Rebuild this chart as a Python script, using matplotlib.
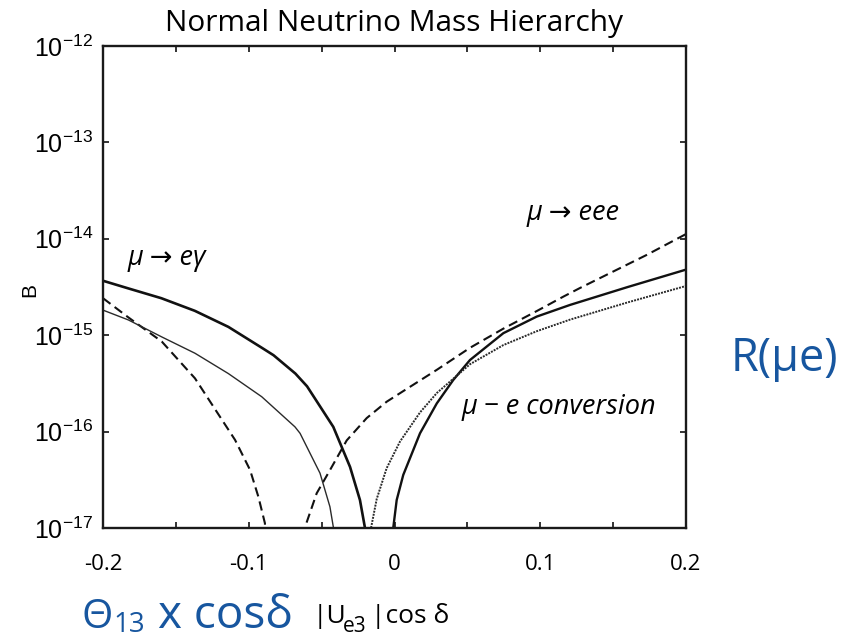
import matplotlib
matplotlib.use('Agg')
import matplotlib.pyplot as plt
import matplotlib.ticker as mticker

plt.rcParams['mathtext.fontset'] = 'custom'
plt.rcParams['mathtext.rm'] = 'Liberation Sans'
plt.rcParams['mathtext.it'] = 'Liberation Sans:italic'

# curves (x = |Ue3| cos delta, B = branching ratio)
# mu -> e gamma, thick solid, left branch
eg_left_x = [-0.200, -0.183, -0.160, -0.137, -0.114, -0.091, -0.083, -0.068, -0.060, -0.042, -0.0305, -0.0237, -0.0204, -0.0195]
eg_left_b = [3.67e-15, 3.07e-15, 2.42e-15, 1.79e-15, 1.22e-15, 7.4e-16, 6.2e-16, 4.0e-16, 2.95e-16, 1.12e-16, 4.3e-17, 1.95e-17, 1.03e-17, 1e-18]

# mu -> eee, dashed
eee_left_x = [-0.200, -0.1826, -0.1597, -0.1369, -0.1094, -0.0991, -0.0934, -0.0889, -0.0878]
eee_left_b = [2.42e-15, 1.53e-15, 8.6e-16, 3.57e-16, 8.2e-17, 4.0e-17, 2.11e-17, 1.12e-17, 1e-18]
eee_right_x = [-0.0625, -0.0614, -0.0534, -0.0443, -0.0328, -0.0191, -0.0054, 0.006, 0.029, 0.0518, 0.0747, 0.0976, 0.1158, 0.1273, 0.173, 0.200]
eee_right_b = [1e-18, 1.02e-17, 2.29e-17, 3.98e-17, 8.1e-17, 1.38e-16, 2.04e-16, 2.63e-16, 4.37e-16, 7.4e-16, 1.17e-15, 1.78e-15, 2.51e-15, 3.09e-15, 6.8e-15, 1.12e-14]

# thin / dotted curve
thin_left_x = [-0.200, -0.1826, -0.1597, -0.1369, -0.114, -0.0911, -0.0683, -0.0648, -0.0511, -0.0443, -0.042, -0.041]
thin_left_b = [1.82e-15, 1.44e-15, 9.6e-16, 6.5e-16, 4.0e-16, 2.3e-16, 1.12e-16, 9.6e-17, 3.7e-17, 1.66e-17, 1.03e-17, 1e-18]
dot_right_x = [-0.0168, -0.016, -0.0122, -0.0054, 0.0038, 0.0175, 0.029, 0.0518, 0.0747, 0.0976, 0.1204, 0.160, 0.200]
dot_right_b = [1e-18, 1.02e-17, 2.0e-17, 4.17e-17, 7.9e-17, 1.58e-16, 2.51e-16, 5.0e-16, 7.9e-16, 1.10e-15, 1.45e-15, 2.19e-15, 3.24e-15]

# mu - e conversion, solid, right branch
conv_right_x = [-0.0015, -0.0008, 0.0015, 0.006, 0.0175, 0.029, 0.0403, 0.0518, 0.0747, 0.0976, 0.1204, 0.160, 0.200]
conv_right_b = [1e-18, 1.02e-17, 1.95e-17, 3.55e-17, 9.6e-17, 1.96e-16, 3.43e-16, 5.53e-16, 1.05e-15, 1.56e-15, 2.06e-15, 3.16e-15, 4.79e-15]

y_ticks = [1e-17, 1e-16, 1e-15, 1e-14, 1e-13, 1e-12]
y_labels = [r'$10^{-17}$', r'$10^{-16}$', r'$10^{-15}$', r'$10^{-14}$', r'$10^{-13}$', r'$10^{-12}$']
x_ticks = [-0.2, -0.15, -0.1, -0.05, 0, 0.05, 0.1, 0.15, 0.2]
x_labels = ['-0.2', '', '-0.1', '', '0', '', '0.1', '', '0.2']

W, H = 856, 641


def fx(px):
    return px / W


def fy(py):
    return 1 - py / H


fig = plt.figure(figsize=(W / 100, H / 100), dpi=100)
ax = fig.add_axes([fx(103), fy(528), (686 - 103) / W, (528 - 46) / H])

ink = '#111111'
dash = (0, (4.5, 2.5))
ax.plot(eg_left_x, eg_left_b, color=ink, lw=1.9)
ax.plot(conv_right_x, conv_right_b, color=ink, lw=1.7)
ax.plot(eee_left_x, eee_left_b, color=ink, lw=1.5, ls=dash)
ax.plot(eee_right_x, eee_right_b, color=ink, lw=1.5, ls=dash)
ax.plot(thin_left_x, thin_left_b, color='#2a2a2a', lw=1.0)
ax.plot(dot_right_x, dot_right_b, color='#2a2a2a', lw=1.4, ls=(0, (1, 0.6)))

ax.set_yscale('log')
ax.set_xlim(-0.2, 0.2)
ax.set_ylim(1e-17, 1e-12)
ax.yaxis.set_major_locator(mticker.FixedLocator(y_ticks))
ax.yaxis.set_minor_locator(mticker.NullLocator())
ax.set_yticklabels(y_labels)
ax.set_xticks(x_ticks)
ax.set_xticklabels(x_labels)
ax.tick_params(direction='in', top=True, right=True, length=4, width=1.2, color=ink)
ax.tick_params(axis='y', labelsize=18, pad=7)
ax.tick_params(axis='x', labelsize=16, pad=19)
for lbl in ax.get_xticklabels():
    lbl.set_fontfamily('Open Sans')
for sp in ax.spines.values():
    sp.set_linewidth(1.7)
    sp.set_color('#1a1a1a')

# title and axis label
fig.text(fx(394), fy(23), 'Normal Neutrino Mass Hierarchy', ha='center', va='center',
         fontsize=21.5, family='Open Sans')
fig.text(fx(30), fy(290), 'B', rotation=90, ha='center', va='center',
         fontsize=15, family='Liberation Sans')

# curve labels
lab_font = ['Open Sans', 'DejaVu Sans']
fig.text(fx(128), fy(258), 'μ → eγ', ha='left', va='center', fontsize=19.5,
         style='italic', family=lab_font)
fig.text(fx(527), fy(213), 'μ → eee', ha='left', va='center', fontsize=19.5,
         style='italic', family=lab_font)
fig.text(fx(462), fy(407), 'μ − e conversion', ha='left', va='center', fontsize=19.5,
         style='italic', family=lab_font)

# blue slide annotations
blue = '#17569f'
fig.text(fx(731), fy(359), 'R(μe)', ha='left', va='center', fontsize=32.5,
         color=blue, family='Open Sans')
fig.text(fx(82), fy(628), 'Θ', ha='left', va='baseline', fontsize=29,
         color=blue, family='Open Sans')
fig.text(fx(113), fy(632), '13', ha='left', va='baseline', fontsize=20,
         color=blue, family='Open Sans')
fig.text(fx(158), fy(628), 'x cosδ', ha='left', va='baseline', fontsize=33,
         color=blue, family='Open Sans')

# black axis caption
fig.text(fx(313), fy(623), '|U', ha='left', va='baseline', fontsize=19, family='Open Sans')
fig.text(fx(343), fy(632), 'e3', ha='left', va='baseline', fontsize=15, family='Open Sans')
fig.text(fx(371), fy(623), '|cos δ', ha='left', va='baseline', fontsize=19, family='Open Sans')

fig.savefig('out.png', dpi=100)
